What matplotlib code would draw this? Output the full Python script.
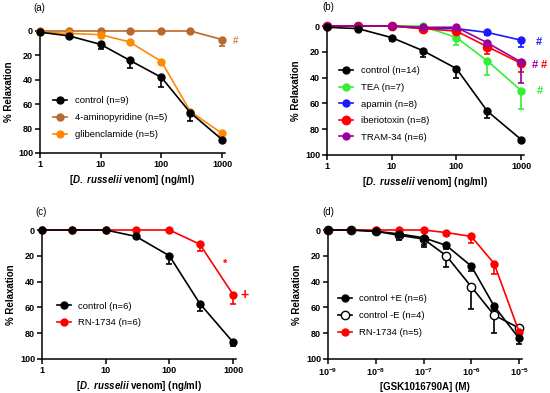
import matplotlib
matplotlib.use("Agg")
import matplotlib.pyplot as plt
import numpy as np

plt.rcParams['font.family'] = ['Liberation Sans', 'DejaVu Sans']
plt.rcParams['font.weight'] = 'bold'
plt.rcParams['mathtext.fontset'] = 'custom'
plt.rcParams['mathtext.it'] = 'Liberation Sans:bold:italic'
plt.rcParams['mathtext.rm'] = 'Liberation Sans:bold'
plt.rcParams['mathtext.bf'] = 'Liberation Sans:bold'

# ---------------- data ----------------
venom_conc = [1, 3, 10, 30, 100, 300, 1000]

# panel (a)
a_control = [1, 4, 11, 24, 38, 67, 89]
a_control_err = [0, 1, 4, 6, 8, 7, 1]
a_4ap = [0, 0, 0, 0, 0, 0, 7]
a_4ap_err = [0, 0, 0, 0, 0, 0, 5]
a_glib = [1, 2, 3, 9, 25, 66, 84]
a_glib_err = [0, 1, 3, 1, 2, 1, 1]

# panel (b)
b_control = [1, 2, 9, 19, 33, 66, 88]
b_control_err = [0, 1, 3, 5, 7, 5, 1]
b_tea = [0, 0, 0, 0, 9, 27, 50]
b_tea_err = [0, 0, 0, 1, 6, 11, 14]
b_apamin = [0, 0, 0, 2, 2, 5, 11]
b_apamin_err = [0, 0, 0, 1, 1, 2, 5]
b_ibtx = [0, 0, 0, 2, 4, 16, 29]
b_ibtx_err = [0, 0, 0, 1, 2, 6, 7]
b_tram = [0, 0, 0, 1, 1, 13, 28]
b_tram_err = [0, 0, 0, 1, 1, 3, 16]

# panel (c)
c_control = [0, 0, 0, 5, 20, 57, 87]
c_control_err = [0, 0, 0, 1, 6, 6, 3]
c_rn = [0, 0, 0, 0, 0, 11, 50]
c_rn_err = [0, 0, 0, 0, 0, 5, 7]

# panel (d)
gsk_conc = [1e-9, 3e-9, 1e-8, 3e-8, 1e-7, 3e-7, 1e-6, 3e-6, 1e-5]
d_ctrl_pe = [0, 0, 1, 3, 6, 12, 28, 59, 84]
d_ctrl_pe_err = [0, 0, 1, 5, 7, 3, 4, 3, 4]
d_ctrl_me = [0, 0, 1, 4, 7, 20, 44, 66, 76]
d_ctrl_me_err = [0, 0, 1, 3, 5, 9, 17, 14, 2]
d_rn = [0, 0, 0, 0, 0, 2, 5, 26, 79]
d_rn_err = [0, 0, 0, 0, 0, 2, 5, 8, 2]

venom_ticks = [1, 10, 100, 1000]
venom_ticklabels = ['1', '10', '100', '1000']
gsk_ticks = [1e-9, 1e-8, 1e-7, 1e-6, 1e-5]
gsk_ticklabels = [r'$\mathbf{10^{-9}}$', r'$\mathbf{10^{-8}}$', r'$\mathbf{10^{-7}}$',
                  r'$\mathbf{10^{-6}}$', r'$\mathbf{10^{-5}}$']
y_ticks = [0, 20, 40, 60, 80, 100]

# colours
BLACK = '#000000'
BROWN = '#B8692E'
ORANGE = '#FF8A00'
GREEN = '#33EE33'
BLUE = '#1A1AFF'
RED = '#FF0000'
PURPLE = '#990099'

W, H = 550, 393
fig = plt.figure(figsize=(W / 100, H / 100), dpi=100)


def ax_from_px(left, top, right, bottom):
    return fig.add_axes([left / W, 1 - bottom / H, (right - left) / W, (bottom - top) / H])


def style(ax, xlabel, xticks, xticklabels, xlim):
    ax.set_xscale('log')
    ax.set_xlim(*xlim)
    ax.set_ylim(100, 0)
    ax.set_xticks(xticks)
    ax.set_xticklabels(xticklabels)
    ax.xaxis.set_minor_locator(matplotlib.ticker.NullLocator())
    ax.set_yticks(y_ticks)
    for s in ['top', 'right']:
        ax.spines[s].set_visible(False)
    for s in ['left', 'bottom']:
        ax.spines[s].set_linewidth(1.1)
    ax.tick_params(axis='both', direction='out', length=3.5, width=1.1, labelsize=6.5, pad=1.5)
    for lab in ax.get_xticklabels() + ax.get_yticklabels():
        lab.set_fontweight('bold')
    ax.set_xlabel(xlabel, fontsize=7, fontweight='bold', labelpad=3)
    ax.set_ylabel('% Relaxation', fontsize=7, fontweight='bold', labelpad=3)


def series(ax, x, y, err, color, label, ms=5, mfc=None, z=2):
    ax.errorbar(x, y, yerr=[np.zeros(len(err)), err], color=color, marker='o', ms=ms,
                mfc=mfc if mfc else color, mec=color, lw=1.2, elinewidth=1.2,
                capsize=2.5, capthick=1.2, label=label, zorder=z, clip_on=False)


def legend(ax, x, y, spacing=0.8):
    handles, labels = ax.get_legend_handles_labels()
    handles = [h[0] for h in handles]
    ax.legend(handles, labels, loc='center left', bbox_to_anchor=(x, y), frameon=False,
              handlelength=1.5, handletextpad=0.8, borderpad=0,
              borderaxespad=0, labelspacing=spacing, prop={'size': 6.8, 'weight': 'normal'})


venom_label = r'[$\mathit{D.\ russelii}$ venom] (ng/ml)'

# (a)
ax = ax_from_px(40, 31, 40 + 60.7 * 3 + 2.5, 153)
style(ax, venom_label, venom_ticks, venom_ticklabels, (1, 1100))
series(ax, venom_conc, a_control, a_control_err, BLACK, 'control (n=9)', z=4)
series(ax, venom_conc, a_4ap, a_4ap_err, BROWN, '4-aminopyridine (n=5)', z=3)
series(ax, venom_conc, a_glib, a_glib_err, ORANGE, 'glibenclamide (n=5)', z=3)
legend(ax, 0.07, 0.29, spacing=0.85)
ax.text(1500, 8, '#', color=BROWN, fontsize=7, ha='left', va='center', fontweight='normal')
fig.text(33 / W, 1 - 8 / H, '(a)', fontsize=7, fontweight='normal', va='center')

# (b)
ax = ax_from_px(327, 26, 327 + 64.7 * 3 + 2.7, 155)
style(ax, venom_label, venom_ticks, venom_ticklabels, (1, 1100))
series(ax, venom_conc, b_control, b_control_err, BLACK, 'control (n=14)', z=4)
series(ax, venom_conc, b_tea, b_tea_err, GREEN, 'TEA (n=7)', z=3)
series(ax, venom_conc, b_apamin, b_apamin_err, BLUE, 'apamin (n=8)', z=3)
series(ax, venom_conc, b_ibtx, b_ibtx_err, RED, 'iberiotoxin (n=8)', ms=6, z=3)
series(ax, venom_conc, b_tram, b_tram_err, PURPLE, 'TRAM-34 (n=6)', z=3)
legend(ax, 0.06, 0.395, spacing=0.8)
ax.text(1700, 12.5, '#', color=BLUE, fontsize=8, ha='left', va='center')
ax.text(1450, 30, '#', color=PURPLE, fontsize=8, ha='left', va='center')
ax.text(2050, 30, '#', color=RED, fontsize=8, ha='left', va='center')
ax.text(1750, 50, '#', color=GREEN, fontsize=8, ha='left', va='center')
fig.text(322 / W, 1 - 7 / H, '(b)', fontsize=7, fontweight='normal', va='center')

# (c)
ax = ax_from_px(42, 230, 42 + 63.7 * 3 + 2.6, 359)
style(ax, venom_label, venom_ticks, venom_ticklabels, (1, 1100))
series(ax, venom_conc, c_control, c_control_err, BLACK, 'control (n=6)', z=4)
series(ax, venom_conc, c_rn, c_rn_err, RED, 'RN-1734 (n=6)', z=3)
legend(ax, 0.075, 0.345, spacing=0.8)
ax.text(740, 26, '*', color=RED, fontsize=8, ha='center', va='center')
ax.text(1500, 50.5, '+', color=RED, fontsize=10, ha='center', va='center')
fig.text(35 / W, 1 - 212 / H, '(c)', fontsize=7, fontweight='normal', va='center')

# (d)
ax = ax_from_px(328, 230, 328 + 47.75 * 4 + 3, 359)
style(ax, '[GSK1016790A] (M)', gsk_ticks, gsk_ticklabels, (1e-9, 1.15e-5))
series(ax, gsk_conc, d_ctrl_pe, d_ctrl_pe_err, BLACK, 'control +E (n=6)', z=4)
series(ax, gsk_conc, d_ctrl_me, d_ctrl_me_err, BLACK, 'control -E (n=4)', mfc='white', ms=6, z=3)
series(ax, gsk_conc, d_rn, d_rn_err, RED, 'RN-1734 (n=5)', z=3.5)
legend(ax, 0.05, 0.337, spacing=0.85)
fig.text(322 / W, 1 - 212 / H, '(d)', fontsize=7, fontweight='normal', va='center')

fig.savefig('out.png', dpi=100)
